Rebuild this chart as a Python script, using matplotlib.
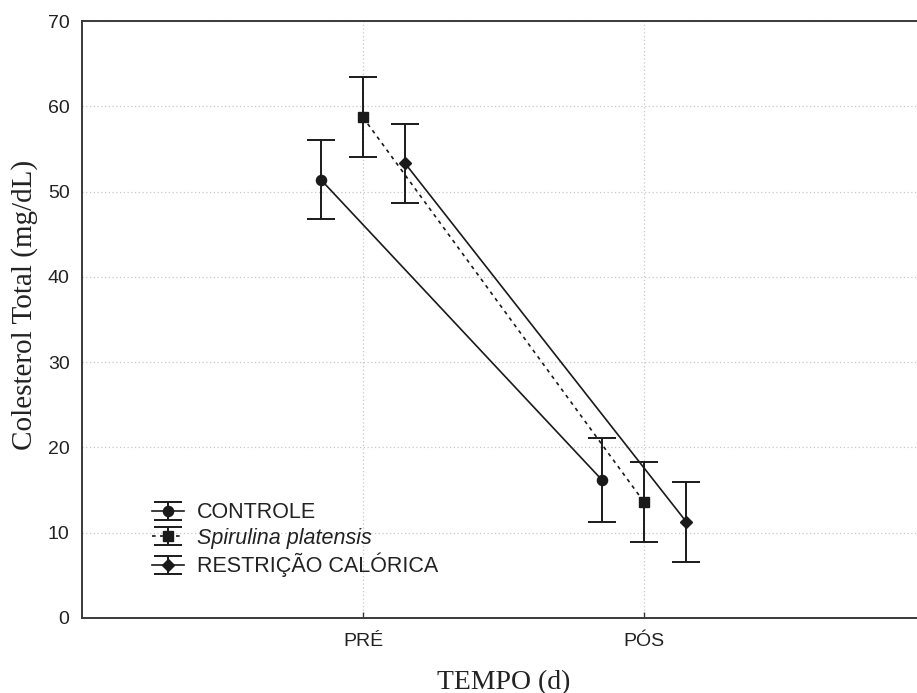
import numpy as np
import matplotlib
matplotlib.use("Agg")
import matplotlib.pyplot as plt
from matplotlib.container import ErrorbarContainer
from matplotlib.legend_handler import HandlerErrorbar

# dados
tempos = ['PRÉ', 'PÓS']
grupos = ['CONTROLE', 'Spirulina platensis', 'RESTRIÇÃO CALÓRICA']
controle = [51.4, 16.2]
controle_err = [4.6, 4.9]
spirulina = [58.7, 13.6]
spirulina_err = [4.7, 4.65]
restricao = [53.3, 11.3]
restricao_err = [4.6, 4.7]

fig = plt.figure(figsize=(9.17, 6.93), dpi=100)
ax = fig.add_axes([82 / 917, 1 - 618 / 693, 843 / 917, 597 / 693])

x = np.arange(len(tempos))
desloc = 0.15
series = [
    (controle, controle_err, -desloc, 'o', '-', 7.3),
    (spirulina, spirulina_err, 0.0, 's', (0, (2.2, 2.6)), 7.5),
    (restricao, restricao_err, desloc, 'D', '-', 6.2),
]

for (vals, err, d, mk, ls, ms), nome in zip(series, grupos):
    ax.errorbar(x + d, vals, yerr=err, fmt=mk, color='#1a1a1a', ms=ms,
                linestyle=ls, linewidth=1.2, elinewidth=1.4, capsize=10,
                capthick=1.4, label=nome, zorder=3)

ax.set_xlim(-1, 2)
ax.set_ylim(0, 70)
ax.set_yticks(range(0, 71, 10))
ax.set_xticks(x)
ax.set_xticklabels(tempos)

ax.grid(True, linestyle=(0, (1, 2)), color='#c8c8c8', linewidth=0.9)
ax.set_axisbelow(True)

for s in ax.spines.values():
    s.set_color('#3a3a3a')
    s.set_linewidth(1.4)

ax.tick_params(axis='y', length=0, pad=9, labelsize=14, labelcolor='#222222')
ax.tick_params(axis='x', direction='in', length=4, width=1, pad=11,
               labelsize=14, labelcolor='#222222', color='#3a3a3a')
for t in ax.get_xticklabels() + ax.get_yticklabels():
    t.set_fontfamily('Liberation Sans')

ax.set_xlabel('TEMPO (d)', fontfamily='Liberation Serif', fontsize=20,
              labelpad=14, color='#222222')
ax.set_ylabel('Colesterol Total (mg/dL)', fontfamily='Liberation Serif',
              fontsize=21, color='#222222')
ax.yaxis.set_label_coords(-0.052, 0.524)

leg = ax.legend(loc='center left', bbox_to_anchor=((152 - 82) / 843, 0.131),
                frameon=False, borderpad=0, borderaxespad=0,
                handlelength=1.5, handletextpad=0.6, labelspacing=0.2,
                handler_map={ErrorbarContainer: HandlerErrorbar(yerr_size=0.42)},
                prop={'family': 'Liberation Sans', 'size': 15.5})
for t in leg.get_texts():
    t.set_color('#222222')
leg.get_texts()[1].set_style('italic')

fig.savefig('out.png', dpi=100)
